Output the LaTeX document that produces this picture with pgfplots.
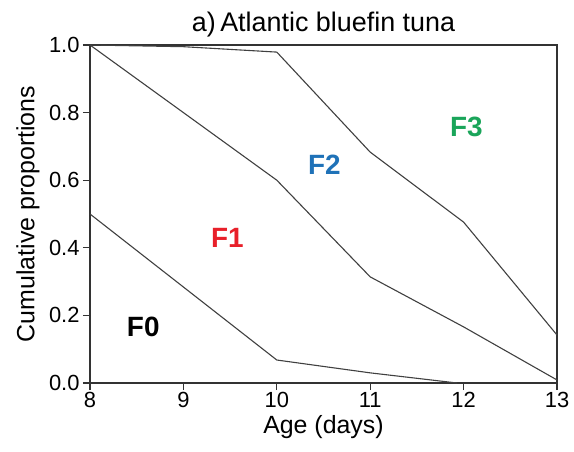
\documentclass[border=0pt]{standalone}
\usepackage{pgfplots}
\pgfplotsset{compat=1.18}
\usepackage{fontspec}
\setmainfont{Liberation Sans}
\definecolor{fred}{HTML}{E8202A}
\definecolor{fblue}{HTML}{1F72B8}
\definecolor{fgreen}{HTML}{1AA55A}
\definecolor{lgray}{HTML}{404040}
\begin{document}
\begin{tikzpicture}
\begin{axis}[
  scale only axis,
  width=467bp, height=338bp,
  xmin=8, xmax=13, ymin=0, ymax=1,
  xtick={8,9,10,11,12,13},
  ytick={0,0.2,0.4,0.6,0.8,1.0},
  yticklabel style={/pgf/number format/.cd,fixed,fixed zerofill,precision=1},
  /pgf/number format/assume math mode=true,
  tick label style={font=\fontsize{22}{24}\selectfont},
  xticklabel style={yshift=1bp},
  xtick pos=left, ytick pos=left,
  tick align=outside,
  major tick length=7bp,
  axis line style={draw=black!80, line width=1.2bp},
  tick style={draw=black!80, line width=1.1bp},
  xlabel={Age (days)},
  ylabel={Cumulative proportions},
  label style={font=\fontsize{25}{27}\selectfont},
  xlabel style={at={(rel axis cs:0.5,0)}, anchor=base, yshift=-50bp},
  ylabel style={at={(rel axis cs:0,0.5)}, anchor=center, yshift=62bp},
  clip=false,
]
\addplot[lgray, line width=1.1bp] coordinates {(8,0.5) (10,0.068) (11,0.03) (11.93,0.0)};
\addplot[lgray, line width=1.1bp] coordinates {(8,1.0) (10,0.60) (11,0.314) (12,0.166) (13,0.009)};
\addplot[lgray, line width=1.1bp] coordinates {(8,1.0) (9,0.995) (10,0.979) (11,0.683) (12,0.476) (13,0.142)};
\node[font=\fontsize{28}{30}\selectfont\bfseries, text=black] at (axis cs:8.57,0.166) {F0};
\node[font=\fontsize{28}{30}\selectfont\bfseries, text=fred] at (axis cs:9.47,0.43) {F1};
\node[font=\fontsize{28}{30}\selectfont\bfseries, text=fblue] at (axis cs:10.51,0.645) {F2};
\node[font=\fontsize{28}{30}\selectfont\bfseries, text=fgreen] at (axis cs:12.03,0.757) {F3};
\node[anchor=base, font=\fontsize{27}{29}\selectfont] at ([yshift=13bp]rel axis cs:0.5,1) {a)\,Atlantic bluefin tuna};
\end{axis}
\pgfresetboundingbox
\path (-90bp,-69bp) rectangle (484bp,383bp);
\end{tikzpicture}
\end{document}
